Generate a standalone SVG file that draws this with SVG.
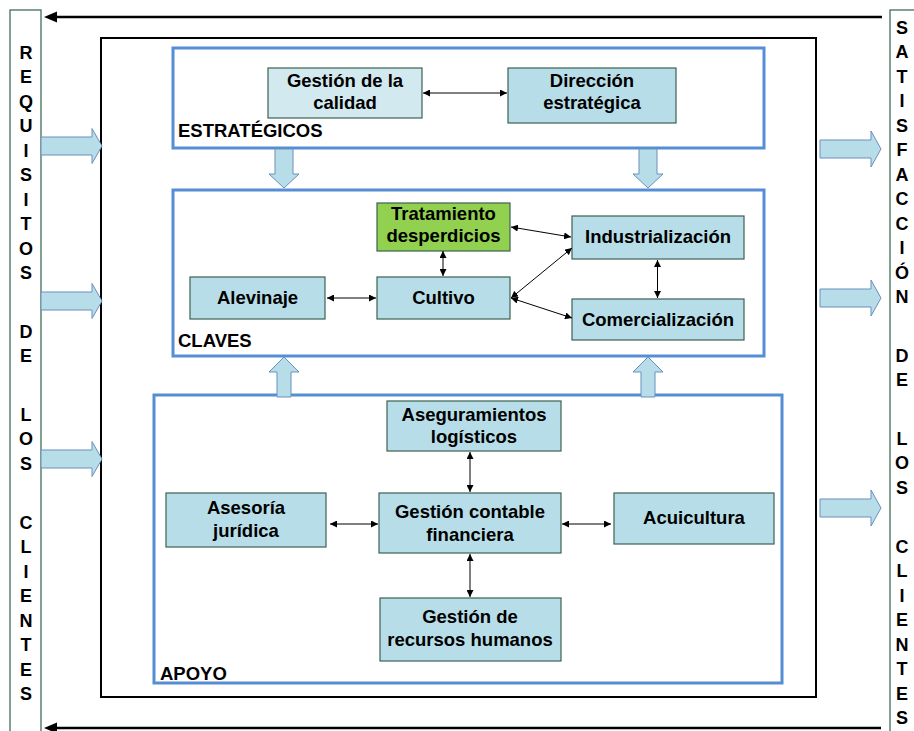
<svg xmlns="http://www.w3.org/2000/svg" width="914" height="731" viewBox="0 0 914 731">
<defs>
<style>
text{font-family:"Liberation Sans",Arial,sans-serif;font-weight:bold;fill:#000}
.t{font-size:18.5px;text-anchor:middle}
.lbl{font-size:18.5px}
.side{font-size:18px;text-anchor:middle}
.node{fill:#b7dee8;stroke:#3b6152;stroke-width:1.2}
.cont{fill:none;stroke:#558ed5;stroke-width:3}
.blk{fill:#b7dee8;stroke:#6a8fbf;stroke-width:1}
.con{stroke:#000;stroke-width:1;fill:none;marker-start:url(#ah);marker-end:url(#ah)}
</style>
<marker id="ah" viewBox="0 0 8 8" refX="8" refY="4" markerWidth="7" markerHeight="7" markerUnits="userSpaceOnUse" orient="auto-start-reverse"><path d="M0,0 L8,4 L0,8 z" fill="#000"/></marker>
</defs>
<rect width="914" height="731" fill="#fff"/>

<g id="side-left">
<rect x="10" y="10" width="31" height="740" fill="#fff" stroke="#3f6f55" stroke-width="1.3"/>
<text class="side" x="26" y="58.5">R</text>
<text class="side" x="26" y="83">E</text>
<text class="side" x="26" y="107.5">Q</text>
<text class="side" x="26" y="132">U</text>
<text class="side" x="26" y="156.5">I</text>
<text class="side" x="26" y="181">S</text>
<text class="side" x="26" y="205.5">I</text>
<text class="side" x="26" y="230">T</text>
<text class="side" x="26" y="254.5">O</text>
<text class="side" x="26" y="279">S</text>
<text class="side" x="26" y="337.7">D</text>
<text class="side" x="26" y="362.2">E</text>
<text class="side" x="26" y="420.9">L</text>
<text class="side" x="26" y="445.4">O</text>
<text class="side" x="26" y="469.9">S</text>
<text class="side" x="26" y="528.6">C</text>
<text class="side" x="26" y="553.1">L</text>
<text class="side" x="26" y="577.6">I</text>
<text class="side" x="26" y="602.1">E</text>
<text class="side" x="26" y="626.6">N</text>
<text class="side" x="26" y="651.1">T</text>
<text class="side" x="26" y="675.6">E</text>
<text class="side" x="26" y="700.1">S</text>
</g>

<g id="side-right">
<rect x="890" y="10" width="40" height="740" fill="#fff" stroke="#3f6f55" stroke-width="1.3"/>
<text class="side" x="902" y="33.5">S</text>
<text class="side" x="902" y="58">A</text>
<text class="side" x="902" y="82.5">T</text>
<text class="side" x="902" y="107">I</text>
<text class="side" x="902" y="131.5">S</text>
<text class="side" x="902" y="156">F</text>
<text class="side" x="902" y="180.5">A</text>
<text class="side" x="902" y="205">C</text>
<text class="side" x="902" y="229.5">C</text>
<text class="side" x="902" y="254">I</text>
<text class="side" x="902" y="278.5">Ó</text>
<text class="side" x="902" y="303">N</text>
<text class="side" x="902" y="361.7">D</text>
<text class="side" x="902" y="386.2">E</text>
<text class="side" x="902" y="444.9">L</text>
<text class="side" x="902" y="469.4">O</text>
<text class="side" x="902" y="493.9">S</text>
<text class="side" x="902" y="552.6">C</text>
<text class="side" x="902" y="577.1">L</text>
<text class="side" x="902" y="601.6">I</text>
<text class="side" x="902" y="626.1">E</text>
<text class="side" x="902" y="650.6">N</text>
<text class="side" x="902" y="675.1">T</text>
<text class="side" x="902" y="699.6">E</text>
<text class="side" x="902" y="724.1">S</text>
</g>

<g id="frame">
<rect x="101" y="38" width="715" height="659" fill="none" stroke="#000" stroke-width="2"/>
</g>

<g id="feedback-arrows">
<line x1="882" y1="17" x2="54" y2="17" stroke="#000" stroke-width="2.5"/>
<polygon points="44,17 57,11.5 57,22.5" fill="#000"/>
<line x1="881" y1="728" x2="54" y2="728" stroke="#000" stroke-width="2.5"/>
<polygon points="44,728 57,722.5 57,733.5" fill="#000"/>
</g>

<g id="input-arrows">
<polygon class="blk" points="41,137 92,137 92,128.5 102,146 92,163.5 92,155 41,155"/>
<polygon class="blk" points="41,292 92,292 92,283.5 102,301 92,318.5 92,310 41,310"/>
<polygon class="blk" points="41,450 92,450 92,441.5 102,459 92,476.5 92,468 41,468"/>
</g>

<g id="output-arrows">
<polygon class="blk" points="820,140 871,140 871,131 881,149 871,167 871,158 820,158"/>
<polygon class="blk" points="820,289 871,289 871,280 881,298 871,316 871,307 820,307"/>
<polygon class="blk" points="820,499 871,499 871,490 881,508 871,526 871,517 820,517"/>
</g>

<g id="estrategicos">
<rect class="cont" x="173" y="48" width="591" height="100" fill="none"/>
<text class="lbl" x="178" y="137">ESTRATÉGICOS</text>
</g>
<g id="claves">
<rect class="cont" x="173" y="190" width="591" height="166"/>
<text class="lbl" x="178" y="347">CLAVES</text>
</g>
<g id="apoyo">
<rect class="cont" x="154" y="395" width="628" height="288"/>
<text class="lbl" x="160" y="680">APOYO</text>
</g>

<g id="level-arrows">
<polygon class="blk" points="275,149 293,149 293,174 299,174 284,188 269,174 275,174"/>
<polygon class="blk" points="639,149 657,149 657,174 663,174 648,188 633,174 639,174"/>
<polygon class="blk" points="277,397 291,397 291,372 299,372 284,357 269,372 277,372"/>
<polygon class="blk" points="641,397 655,397 655,372 663,372 648,357 633,372 641,372"/>
</g>

<g id="n-calidad">
<rect class="node" x="268" y="68" width="154" height="50" style="fill:#d2e9ef"/>
<text class="t" x="345" y="87">Gestión de la</text>
<text class="t" x="345" y="109">calidad</text>
</g>
<g id="n-direccion">
<rect class="node" x="508" y="68" width="168" height="55"/>
<text class="t" x="592" y="87">Dirección</text>
<text class="t" x="592" y="109">estratégica</text>
</g>

<g id="n-tratamiento">
<rect class="node" x="377" y="203" width="133" height="48" style="fill:#92d050"/>
<text class="t" x="443.5" y="220">Tratamiento</text>
<text class="t" x="443.5" y="242">desperdicios</text>
</g>
<g id="n-industrializacion">
<rect class="node" x="572" y="216" width="172" height="43"/>
<text class="t" x="658" y="243">Industrialización</text>
</g>
<g id="n-alevinaje">
<rect class="node" x="190" y="277" width="135" height="42"/>
<text class="t" x="257.5" y="304">Alevinaje</text>
</g>
<g id="n-cultivo">
<rect class="node" x="377" y="277" width="133" height="42"/>
<text class="t" x="443.5" y="304">Cultivo</text>
</g>
<g id="n-comercializacion">
<rect class="node" x="572" y="299" width="172" height="41"/>
<text class="t" x="658" y="326">Comercialización</text>
</g>

<g id="n-aseguramientos">
<rect class="node" x="387" y="401" width="174" height="50"/>
<text class="t" x="474" y="421">Aseguramientos</text>
<text class="t" x="474" y="443">logísticos</text>
</g>
<g id="n-asesoria">
<rect class="node" x="166" y="493" width="160" height="54"/>
<text class="t" x="246" y="514">Asesoría</text>
<text class="t" x="246" y="537">jurídica</text>
</g>
<g id="n-contable">
<rect class="node" x="379" y="493" width="182" height="60"/>
<text class="t" x="470" y="518">Gestión contable</text>
<text class="t" x="470" y="541">financiera</text>
</g>
<g id="n-acuicultura">
<rect class="node" x="614" y="493" width="160" height="51"/>
<text class="t" x="694" y="524">Acuicultura</text>
</g>
<g id="n-rrhh">
<rect class="node" x="380" y="598" width="181" height="63"/>
<text class="t" x="470" y="623">Gestión de</text>
<text class="t" x="470" y="646">recursos humanos</text>
</g>

<g id="connectors">
<line class="con" x1="423" y1="93" x2="507" y2="93"/>
<line class="con" x1="511" y1="227" x2="571" y2="237"/>
<line class="con" x1="443" y1="251" x2="443" y2="276"/>
<line class="con" x1="327" y1="298" x2="376" y2="298"/>
<line class="con" x1="511" y1="298" x2="572" y2="248"/>
<line class="con" x1="511" y1="298" x2="572" y2="318"/>
<line class="con" x1="657.5" y1="260" x2="657.5" y2="298"/>
<line class="con" x1="470" y1="452" x2="470" y2="492"/>
<line class="con" x1="330" y1="524" x2="378" y2="524"/>
<line class="con" x1="562" y1="524" x2="611" y2="524"/>
<line class="con" x1="470" y1="554" x2="470" y2="597"/>
</g>
</svg>
